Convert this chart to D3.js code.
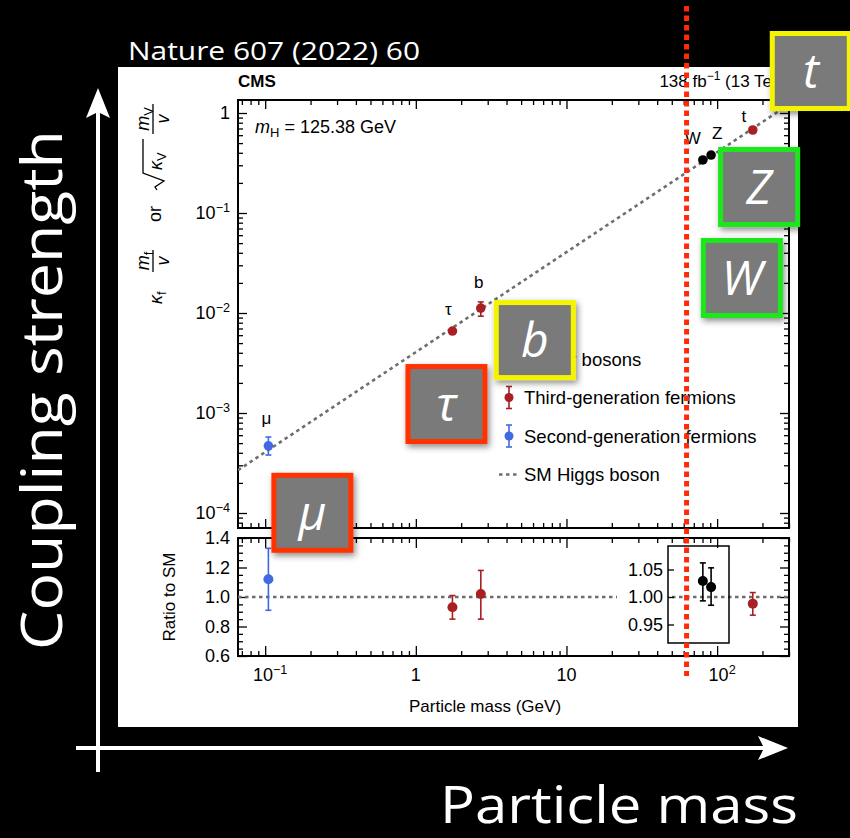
<!DOCTYPE html>
<html>
<head>
<meta charset="utf-8">
<script src="https://cdn.jsdelivr.net/npm/d3@7"></script>
<style>
  body { margin: 0; background: #000; }
  svg { display: block; }
</style>
</head>
<body>
<div id="chart"></div>
<script>
// ---- data ----
const particles = ["μ", "τ", "b", "W", "Z", "t"];
const groups = ["second", "third", "third", "vector", "vector", "third"];
const masses = [0.105, 1.75, 2.7, 80.4, 91.2, 172.5];
const coupling = [4.7e-4, 6.6e-3, 0.0112, 0.339, 0.38, 0.676];
const couplingLo = [3.8e-4, 6.4e-3, 0.0093, 0.335, 0.376, 0.67];
const couplingHi = [5.75e-4, 6.8e-3, 0.0129, 0.343, 0.384, 0.682];
const ratio = [1.12, 0.93, 1.02, 1.029, 1.018, 0.955];
const ratioLo = [0.91, 0.85, 0.85, 0.993, 0.985, 0.877];
const ratioHi = [1.33, 1.01, 1.18, 1.062, 1.053, 1.03];
const inInset = [false, false, false, true, true, false];

const xTicks = [0.1, 1, 10, 100];
const xTickLabels = [["10", "−1"], ["1", ""], ["10", ""], ["10", "2"]];
const yTicks = [1, 0.1, 0.01, 0.001, 0.0001];
const yTickLabels = [["1", ""], ["10", "−1"], ["10", "−2"], ["10", "−3"], ["10", "−4"]];
const ratioTicks = [0.6, 0.8, 1.0, 1.2, 1.4];
const insetTicks = [0.95, 1.0, 1.05];
const legendLabels = ["Vector bosons", "Third-generation fermions", "Second-generation fermions", "SM Higgs boson"];
const legendGroups = ["vector", "third", "second", "sm"];
const higgsMass = 125.38;
const vev = 246.22;

// ---- styling / layout ----
const W = 850, H = 838;
const colors = { vector: "#000000", third: "#a81f24", second: "#4169e1" };
const fontChart = "'Liberation Sans', Arial, Helvetica, sans-serif";
const fontOverlay = "'Open Sans', 'Noto Sans', sans-serif";

// label offsets relative to each point (px)
const labelDx = [-2, -4, -2, -10, 6, -9];
const labelDy = [-22, -16, -20, -16, -16, -8];
// annotation boxes: offsets of box centre relative to each point, and border colours
const boxDx = [44, -6, 54, 39, 48, 58];
const boxDy = [67, 73, 32, 118, 32, -59];
const boxColors = ["#ff3300", "#ff3300", "#f4f400", "#1ee61e", "#1ee61e", "#f4f400"];

const main = { l: 238, r: 789, t: 100, b: 528 };
const rat = { l: 238, r: 789, t: 538, b: 656 };
const inset = { l: 668, r: 729, t: 546, b: 643 };

const x = d3.scaleLog().domain([0.066, 300]).range([main.l, main.r]);
const y = d3.scaleLog().domain([Math.pow(10, -4.15), Math.pow(10, 0.13)]).range([main.b, main.t]);
const yR = d3.scaleLinear().domain([0.6, 1.4]).range([rat.b, rat.t]);
const yI = d3.scaleLinear().domain([1 - 46 / 550, 1 + 51 / 550]).range([inset.b, inset.t]);

const svg = d3.select("#chart").append("svg")
  .attr("width", W).attr("height", H)
  .attr("viewBox", [0, 0, W, H]);

const defs = svg.append("defs");
defs.append("clipPath").attr("id", "clip-main")
  .append("rect").attr("x", main.l).attr("y", main.t)
  .attr("width", main.r - main.l).attr("height", main.b - main.t);
const shadow = defs.append("filter").attr("id", "shadow")
  .attr("x", "-30%").attr("y", "-30%").attr("width", "160%").attr("height", "160%");
shadow.append("feDropShadow").attr("dx", 2).attr("dy", 3)
  .attr("stdDeviation", 3).attr("flood-color", "#000").attr("flood-opacity", 0.45);

svg.append("rect").attr("width", W).attr("height", H).attr("fill", "#000");
svg.append("rect").attr("x", 118).attr("y", 67).attr("width", 680).attr("height", 660).attr("fill", "#fff");

const chart = svg.append("g").attr("font-family", fontChart).attr("fill", "#000");

// decade minor ticks
const logMinor = (lo, hi) => {
  const out = [];
  for (let e = Math.floor(Math.log10(lo)); e <= Math.ceil(Math.log10(hi)); e++) {
    for (let k = 2; k <= 9; k++) {
      const v = k * Math.pow(10, e);
      if (v >= lo && v <= hi) out.push(v);
    }
  }
  return out;
};
const xMinor = logMinor(...x.domain());
const yMinor = logMinor(...y.domain());
const rMinor = d3.range(0.65, 1.4, 0.05).filter(v => Math.abs(Math.round(v * 5) - v * 5) > 0.01);

function tickAxis(gen, scale, values, size, tx, ty) {
  chart.append("g")
    .attr("transform", `translate(${tx},${ty})`)
    .call(gen(scale).tickValues(values).tickSize(-size).tickFormat(""))
    .call(g => g.select(".domain").remove())
    .call(g => g.selectAll(".tick line").attr("stroke", "#000").attr("stroke-width", 1.3));
}

// main panel ticks
tickAxis(d3.axisBottom, x, xTicks, 9, 0, main.b);
tickAxis(d3.axisBottom, x, xMinor, 5, 0, main.b);
tickAxis(d3.axisTop, x, xTicks, 9, 0, main.t);
tickAxis(d3.axisTop, x, xMinor, 5, 0, main.t);
tickAxis(d3.axisLeft, y, yTicks, 9, main.l, 0);
tickAxis(d3.axisLeft, y, yMinor, 5, main.l, 0);
tickAxis(d3.axisRight, y, yTicks, 9, main.r, 0);
tickAxis(d3.axisRight, y, yMinor, 5, main.r, 0);
// ratio panel ticks
tickAxis(d3.axisBottom, x, xTicks, 10, 0, rat.b);
tickAxis(d3.axisBottom, x, xMinor, 5, 0, rat.b);
tickAxis(d3.axisTop, x, xTicks, 10, 0, rat.t);
tickAxis(d3.axisTop, x, xMinor, 5, 0, rat.t);
tickAxis(d3.axisLeft, yR, ratioTicks, 9, rat.l, 0);
tickAxis(d3.axisLeft, yR, rMinor, 5, rat.l, 0);
tickAxis(d3.axisRight, yR, ratioTicks, 9, rat.r, 0);
tickAxis(d3.axisRight, yR, rMinor, 5, rat.r, 0);

// frames
[main, rat].forEach(p => {
  chart.append("rect").attr("x", p.l).attr("y", p.t)
    .attr("width", p.r - p.l).attr("height", p.b - p.t)
    .attr("fill", "none").attr("stroke", "#000").attr("stroke-width", 2);
});

// tick labels with superscripts
function powLabel(g, parts, px, py, anchor, size) {
  const t = g.append("text").attr("x", px).attr("y", py)
    .attr("text-anchor", anchor).attr("font-size", size);
  t.append("tspan").text(parts[0]);
  if (parts[1]) t.append("tspan").attr("dy", -7).attr("font-size", size * 0.7).text(parts[1]);
  return t;
}
xTicks.forEach((v, i) => powLabel(chart, xTickLabels[i], x(v) + (xTickLabels[i][1] ? 5 : 0), 681, "middle", 18));
yTicks.forEach((v, i) => powLabel(chart, yTickLabels[i], 230, y(v) + 6, "end", 18));
ratioTicks.forEach(v => chart.append("text").attr("x", 230).attr("y", yR(v) + 6)
  .attr("text-anchor", "end").attr("font-size", 18).text(d3.format(".1f")(v)));

// axis titles
chart.append("text").attr("x", 485).attr("y", 712)
  .attr("text-anchor", "middle").attr("font-size", 17).text("Particle mass (GeV)");
chart.append("text").attr("transform", `translate(175,${(rat.t + rat.b) / 2}) rotate(-90)`)
  .attr("text-anchor", "middle").attr("font-size", 17).text("Ratio to SM");

// main y title: κf mf/v or √κV mV/v (rotated)
const yt = chart.append("g").attr("transform", "translate(163,0) rotate(-90)").attr("font-size", 18);
function italicSub(g, base, sub, lx, ly, anchor) {
  const t = g.append("text").attr("x", lx).attr("y", ly).attr("text-anchor", anchor || "start");
  t.append("tspan").attr("font-style", "italic").text(base);
  t.append("tspan").attr("dy", 4).attr("font-size", 13).text(sub);
  return t;
}
italicSub(yt, "κ", "f", -304, -1);
italicSub(yt, "m", "f", -261, -14, "middle");
yt.append("line").attr("x1", -272).attr("x2", -250).attr("y1", -10).attr("y2", -10).attr("stroke", "#000").attr("stroke-width", 1.3);
yt.append("text").attr("x", -261).attr("y", 6).attr("text-anchor", "middle").attr("font-style", "italic").text("v");
yt.append("text").attr("x", -214).attr("y", -2).attr("text-anchor", "middle").text("or");
yt.append("path").attr("d", "M-190,-6 L-187,-8 L-181,1 L-173,-20 L-139,-20")
  .attr("fill", "none").attr("stroke", "#000").attr("stroke-width", 1.3);
italicSub(yt, "κ", "V", -170, -1);
italicSub(yt, "m", "V", -119, -14, "middle");
yt.append("line").attr("x1", -134).attr("x2", -104).attr("y1", -10).attr("y2", -10).attr("stroke", "#000").attr("stroke-width", 1.3);
yt.append("text").attr("x", -119).attr("y", 6).attr("text-anchor", "middle").attr("font-style", "italic").text("v");

// header texts
chart.append("text").attr("x", main.l).attr("y", 87).attr("font-size", 17).attr("font-weight", "bold").text("CMS");
const lumi = chart.append("text").attr("x", main.r).attr("y", 87).attr("font-size", 17).attr("text-anchor", "end");
lumi.append("tspan").text("138 fb");
lumi.append("tspan").attr("dy", -7).attr("font-size", 12).text("−1");
lumi.append("tspan").attr("dy", 7).text(" (13 TeV)");
const mh = chart.append("text").attr("x", 255).attr("y", 133).attr("font-size", 18);
mh.append("tspan").attr("font-style", "italic").text("m");
mh.append("tspan").attr("dy", 4).attr("font-size", 13).text("H");
mh.append("tspan").attr("dy", -4).text(` = ${higgsMass} GeV`);

// SM expectation line (κ = 1)
const smLine = d3.line().x(d => x(d)).y(d => y(d / vev));
chart.append("path").attr("d", smLine(x.domain()))
  .attr("clip-path", "url(#clip-main)")
  .attr("fill", "none").attr("stroke", "#6e6e6e").attr("stroke-width", 2.6).attr("stroke-dasharray", "3.5,3.5");
chart.append("line").attr("x1", rat.l).attr("x2", rat.r).attr("y1", yR(1)).attr("y2", yR(1))
  .attr("stroke", "#6e6e6e").attr("stroke-width", 2.6).attr("stroke-dasharray", "3.5,3.5");

// inset for vector bosons
chart.append("rect").attr("x", 617).attr("y", inset.t + 4).attr("width", inset.l - 617).attr("height", inset.b - inset.t - 8).attr("fill", "#fff");
chart.append("g").attr("transform", `translate(${inset.l},0)`)
  .call(d3.axisLeft(yI).tickValues(insetTicks).tickSize(-6).tickFormat(""))
  .call(g => g.select(".domain").remove())
  .call(g => g.selectAll(".tick line").attr("stroke", "#000").attr("stroke-width", 1.3));
chart.append("rect").attr("x", inset.l).attr("y", inset.t)
  .attr("width", inset.r - inset.l).attr("height", inset.b - inset.t)
  .attr("fill", "none").attr("stroke", "#000").attr("stroke-width", 1.5);
insetTicks.forEach(v => chart.append("text").attr("x", inset.l - 5).attr("y", yI(v) + 6)
  .attr("text-anchor", "end").attr("font-size", 18).text(d3.format(".2f")(v)));

// error bar helper
function errBar(g, cx, y0, y1, color, cap) {
  g.append("line").attr("x1", cx).attr("x2", cx).attr("y1", y0).attr("y2", y1)
    .attr("stroke", color).attr("stroke-width", 1.6);
  [y0, y1].forEach(yy => g.append("line").attr("x1", cx - cap).attr("x2", cx + cap)
    .attr("y1", yy).attr("y2", yy).attr("stroke", color).attr("stroke-width", 1.6));
}

const pts = chart.append("g");
particles.forEach((p, i) => {
  const c = colors[groups[i]];
  const cx = x(masses[i]);
  // main panel
  if (y(couplingLo[i]) - y(couplingHi[i]) > 10) errBar(pts, cx, y(couplingHi[i]), y(couplingLo[i]), c, 3);
  pts.append("circle").attr("cx", cx).attr("cy", y(coupling[i])).attr("r", 4.8).attr("fill", c);
  pts.append("text").attr("x", cx + labelDx[i]).attr("y", y(coupling[i]) + labelDy[i])
    .attr("text-anchor", "middle").attr("font-size", 17).text(p);
  // ratio panel (vector bosons go in the inset)
  const ys = inInset[i] ? yI : yR;
  errBar(pts, cx, ys(ratioHi[i]), ys(ratioLo[i]), c, 3);
  pts.append("circle").attr("cx", cx).attr("cy", ys(ratio[i])).attr("r", 5).attr("fill", c);
});

// legend
const legY0 = 359, legStep = 38.5, legX = 509;
legendLabels.forEach((lab, i) => {
  const ly = legY0 + i * legStep;
  const grp = legendGroups[i];
  if (grp === "sm") {
    chart.append("line").attr("x1", legX - 10).attr("x2", legX + 10).attr("y1", ly).attr("y2", ly)
      .attr("stroke", "#6e6e6e").attr("stroke-width", 2.6).attr("stroke-dasharray", "3.5,3.5");
  } else {
    errBar(chart, legX, ly - 11, ly + 11, colors[grp], 3);
    chart.append("circle").attr("cx", legX).attr("cy", ly).attr("r", 4.5).attr("fill", colors[grp]);
  }
  chart.append("text").attr("x", legX + 15).attr("y", ly + 6.5).attr("font-size", 18.5).text(lab);
});

// dotted line at half the Higgs mass
svg.append("line").attr("x1", x(higgsMass / 2)).attr("x2", x(higgsMass / 2))
  .attr("y1", 6).attr("y2", 676)
  .attr("stroke", "#ff2a0a").attr("stroke-width", 5).attr("stroke-dasharray", "5.5,4");

// annotation boxes
const boxes = svg.append("g");
particles.forEach((p, i) => {
  const cx = x(masses[i]) + boxDx[i];
  const cy = y(coupling[i]) + boxDy[i];
  const g = boxes.append("g").attr("transform", `translate(${cx},${cy})`);
  g.append("rect").attr("x", -38.5).attr("y", -37.5).attr("width", 77).attr("height", 75)
    .attr("fill", "#7a7a7a").attr("stroke", boxColors[i]).attr("stroke-width", 5)
    .attr("filter", "url(#shadow)");
  g.append("text").attr("x", 0).attr("y", 17).attr("text-anchor", "middle")
    .attr("font-family", fontOverlay).attr("font-style", "italic").attr("font-size", 48)
    .attr("fill", "#fff").text(p);
});

// outer axes arrows and titles
const ov = svg.append("g").attr("stroke", "#fff").attr("fill", "#fff");
ov.append("line").attr("x1", 98).attr("x2", 98).attr("y1", 772).attr("y2", 112).attr("stroke-width", 4);
ov.append("path").attr("d", "M98,88 L110,118 L98,112 L86,118 Z").attr("stroke", "none");
ov.append("line").attr("x1", 76).attr("x2", 764).attr("y1", 748).attr("y2", 748).attr("stroke-width", 4);
ov.append("path").attr("d", "M788,748 L758,760 L764,748 L758,736 Z").attr("stroke", "none");

svg.append("text").attr("x", 128).attr("y", 60).attr("font-family", fontOverlay)
  .attr("font-size", 25).attr("fill", "#fff")
  .attr("textLength", 292).attr("lengthAdjust", "spacingAndGlyphs").text("Nature 607 (2022) 60");
svg.append("text").attr("transform", "translate(62,390) rotate(-90)").attr("text-anchor", "middle")
  .attr("font-family", fontOverlay).attr("font-size", 56).attr("fill", "#fff")
  .attr("textLength", 520).attr("lengthAdjust", "spacingAndGlyphs").text("Coupling strength");
svg.append("text").attr("x", 440).attr("y", 823)
  .attr("font-family", fontOverlay).attr("font-size", 52).attr("fill", "#fff")
  .attr("textLength", 358).attr("lengthAdjust", "spacingAndGlyphs").text("Particle mass");
</script>
</body>
</html>
